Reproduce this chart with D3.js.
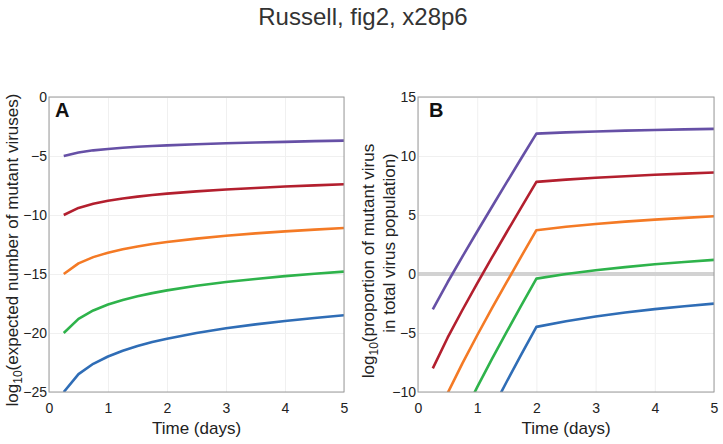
<!DOCTYPE html>
<html><head><meta charset="utf-8">
<script src="https://cdn.jsdelivr.net/npm/d3@7"></script>
<style>body{margin:0;background:#fff;} text{font-family:"Liberation Sans",Arial,Helvetica,sans-serif;fill:#222;}</style>
</head><body><svg id="c" width="723" height="444"></svg>
<script>
const title = "Russell, fig2, x28p6";
const colors = ["#6650a6", "#b31f2e", "#f47a25", "#2eb34b", "#2f6db6"];
const xTicks = [0, 1, 2, 3, 4, 5];
const yTicksA = [0, -5, -10, -15, -20, -25];
const yTicksB = [15, 10, 5, 0, -5, -10];

const timeA = [0.25, 0.5, 0.75, 1, 1.25, 1.5, 1.75, 2, 2.5, 3, 3.5, 4, 4.5, 5];
const purpleA = [-5, -4.70, -4.52, -4.40, -4.30, -4.22, -4.15, -4.10, -4.00, -3.92, -3.85, -3.80, -3.74, -3.70];
const redA    = [-10, -9.40, -9.05, -8.80, -8.60, -8.44, -8.31, -8.19, -8.00, -7.84, -7.71, -7.59, -7.49, -7.40];
const orangeA = [-15, -14.10, -13.57, -13.19, -12.90, -12.67, -12.46, -12.29, -12.00, -11.76, -11.56, -11.39, -11.24, -11.10];
const greenA  = [-20, -18.80, -18.09, -17.59, -17.20, -16.89, -16.62, -16.39, -16.00, -15.68, -15.42, -15.18, -14.98, -14.80];
const blueA   = [-25, -23.49, -22.61, -21.99, -21.51, -21.11, -20.77, -20.48, -20.00, -19.60, -19.27, -18.98, -18.73, -18.49];

const timeB = [0.25, 0.5, 0.75, 1, 1.25, 1.5, 1.75, 2, 2.5, 3, 3.5, 4, 4.5, 5];
const purpleB = [-3, -0.70, 1.48, 3.60, 5.70, 7.78, 9.85, 11.90, 12.00, 12.08, 12.15, 12.20, 12.26, 12.30];
const redB    = [-8, -5.40, -3.05, -0.80, 1.40, 3.56, 5.69, 7.81, 8.00, 8.16, 8.29, 8.41, 8.51, 8.60];
const orangeB = [-13, -10.10, -7.57, -5.19, -2.90, -0.67, 1.54, 3.71, 4.00, 4.24, 4.44, 4.61, 4.76, 4.90];
const greenB  = [-18, -14.80, -12.09, -9.59, -7.20, -4.89, -2.62, -0.39, 0.00, 0.32, 0.58, 0.82, 1.02, 1.20];
const blueB   = [-23, -19.49, -16.61, -13.99, -11.51, -9.11, -6.77, -4.48, -4.00, -3.60, -3.27, -2.98, -2.73, -2.51];

const svg = d3.select("#c");
svg.append("text").attr("x", 363).attr("y", 25).attr("text-anchor", "middle")
  .style("font-size", "24px").style("fill", "#333").text(title);

function panel(id, x0, x1, y0, y1, yDomain, yTicks, time, series, letter, letterX, ylabLines, zeroLine) {
  const x = d3.scaleLinear().domain([0, 5]).range([x0, x1]);
  const y = d3.scaleLinear().domain(yDomain).range([y1, y0]);
  const g = svg.append("g");
  g.append("clipPath").attr("id", id).append("rect")
    .attr("x", x0).attr("y", y0).attr("width", x1 - x0).attr("height", y1 - y0);
  // grid
  g.append("g").attr("transform", `translate(0,${y1})`)
    .call(d3.axisBottom(x).tickValues(xTicks).tickSize(-(y1 - y0)).tickFormat(""))
    .call(s => { s.select(".domain").remove(); s.selectAll("line").attr("stroke", "#f0f0f0"); });
  g.append("g").attr("transform", `translate(${x0},0)`)
    .call(d3.axisLeft(y).tickValues(yTicks).tickSize(-(x1 - x0)).tickFormat(""))
    .call(s => { s.select(".domain").remove(); s.selectAll("line").attr("stroke", "#f0f0f0"); });
  const font = "Liberation Sans, Arial, sans-serif";
  // tick labels
  g.append("g").attr("transform", `translate(0,${y1})`)
    .call(d3.axisBottom(x).tickValues(xTicks).tickSize(0).tickPadding(11).tickFormat(d3.format("d")))
    .call(s => { s.select(".domain").remove(); s.selectAll("text").style("font-size", "14px").style("fill", "#222").style("font-family", font); });
  g.append("g").attr("transform", `translate(${x0},0)`)
    .call(d3.axisLeft(y).tickValues(yTicks).tickSize(0).tickPadding(2).tickFormat(d => d < 0 ? "\u2212" + Math.abs(d) : d))
    .call(s => { s.select(".domain").remove(); s.selectAll("text").style("font-size", "14px").style("fill", "#222").style("font-family", font); });
  if (zeroLine) {
    g.append("line").attr("x1", x0).attr("x2", x1).attr("y1", y(0)).attr("y2", y(0))
      .attr("stroke", "#d2d2d2").attr("stroke-width", 4);
  }
  const line = d3.line().x((d, i) => x(time[i])).y(d => y(d));
  const lg = g.append("g").attr("clip-path", `url(#${id})`);
  series.forEach((s, k) => {
    lg.append("path").datum(s).attr("d", line).attr("fill", "none")
      .attr("stroke", colors[k]).attr("stroke-width", 2.6).attr("stroke-linejoin", "round");
  });
  // frame
  g.append("rect").attr("x", x0).attr("y", y0).attr("width", x1 - x0).attr("height", y1 - y0)
    .attr("fill", "none").attr("stroke", "#9a9a9a").attr("stroke-width", 1);
  g.append("text").attr("x", letterX).attr("y", y0 + 20).style("font-size", "20px").style("font-weight", "bold")
    .style("fill", "#111").text(letter);
  g.append("text").attr("x", (x0 + x1) / 2).attr("y", y1 + 42).attr("text-anchor", "middle")
    .style("font-size", "17px").text("Time (days)");
  const cy = (y0 + y1) / 2;
  ylabLines.forEach((ln, i) => {
    const t = g.append("text").attr("transform", `translate(${ln.x},${ln.cy || cy}) rotate(-90)`)
      .attr("text-anchor", "middle").style("font-size", "17px");
    ln.parts.forEach(p => {
      const ts = t.append("tspan").text(p.t);
      if (p.sub) ts.attr("dy", 4).style("font-size", "12px");
      else if (p.after) ts.attr("dy", -4);
    });
  });
}

panel("clipA", 49, 344, 97, 392, [-25, 0], yTicksA, timeA, [purpleA, redA, orangeA, greenA, blueA], "A", 55,
  [{x: 18, cy: 250, parts: [{t: "log"}, {t: "10", sub: true}, {t: "(expected number of mutant viruses)", after: true}]}], false);
panel("clipB", 418, 714, 97, 392, [-10, 15], yTicksB, timeB, [purpleB, redB, orangeB, greenB, blueB], "B", 429,
  [{x: 374, cy: 261, parts: [{t: "log"}, {t: "10", sub: true}, {t: "(proportion of mutant virus", after: true}]},
   {x: 395, cy: 243, parts: [{t: "in total virus population)"}]}], true);
</script></body></html>
